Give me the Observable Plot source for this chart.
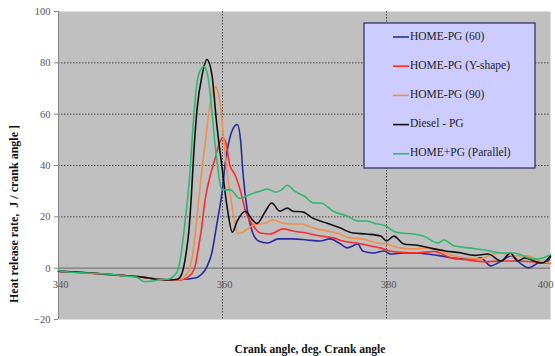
<!DOCTYPE html>
<html><head><meta charset="utf-8">
<script src="https://cdn.jsdelivr.net/npm/d3@7"></script>
<script src="https://cdn.jsdelivr.net/npm/@observablehq/plot@0.6"></script>
<style>body{margin:0;background:#fff} svg{display:block} svg text{font-family:'Liberation Serif','Times New Roman',serif !important;}</style>
</head><body><div id="chart"></div>
<script>
const seriesNames = ["HOME-PG (60)", "HOME-PG (Y-shape)", "HOME-PG (90)", "Diesel - PG", "HOME+PG (Parallel)"];
const seriesColors = ["#2a2a9c", "#ff2b2b", "#f0904c", "#111111", "#2eb872"];
const xTicks = [340, 360, 380];
const xTickLast = [400];
const yTicks = [-20, 0, 20, 40, 60, 80, 100];

const home60 = [[340,-1.3],[342,-1.6],[344,-2],[346,-2.4],[348,-2.9],[350,-3.4],[352,-4.2],[353.5,-4.5],[355.4,-4.3],[356.9,-3.6],[357.5,-2.2],[358.1,0.5],[358.7,6],[359.3,17],[360,31],[360.3,40],[360.7,48],[361.3,54.5],[361.8,56],[362.2,50],[362.5,37],[363,23],[363.6,14.5],[364.4,10.6],[365.5,9.8],[366.8,11.4],[368.6,11.4],[370.3,11],[371.9,10.6],[373.1,11.4],[374.4,9.4],[375.2,7.9],[376.5,9.4],[377.1,6.7],[378.4,5.9],[379.7,6.7],[380.5,5.5],[382.1,5.9],[383.8,5.9],[385,5.5],[386.6,4.8],[387.9,4],[389.5,3.6],[390.7,3.6],[391.5,4],[392.7,0.9],[394,2.8],[395.2,4.8],[396.4,1.7],[397.3,0.1],[398.5,2],[399.7,2.8],[400,4.5]];
const homeY = [[340,-1.2],[342,-1.5],[344,-2],[346,-2.5],[348,-2.9],[350,-3.4],[352,-4.3],[353.5,-4.6],[355,-4.5],[355.8,-3.5],[356.6,0],[357,6.7],[357.4,14.5],[357.9,27],[358.5,36],[359.1,42.8],[359.6,48.5],[360,50.8],[360.4,49],[360.9,40],[361.5,36.6],[362.2,30],[362.8,22.2],[363.6,17.2],[364.6,13.7],[365.8,13.3],[367.4,15.3],[368.6,14.5],[370.2,13.7],[371.9,12.5],[373.5,11.8],[374.7,10.6],[376.3,9.8],[378,8.7],[379.2,7.9],[380.4,6.7],[381.7,6.2],[383.8,6],[385.8,6.5],[387.9,4],[389.9,3.2],[392,2.5],[394,2.8],[396,2.8],[398,2.4],[400,1.8]];
const home90 = [[340,-1.3],[342,-1.6],[344,-2.1],[346,-2.4],[348,-2.9],[350,-3.5],[352,-4.2],[353.5,-4.6],[355,-4.3],[355.4,-3.2],[356,0],[356.4,6],[356.8,17],[357.3,33],[357.9,49],[358.4,62],[358.8,69],[359.1,70.8],[359.5,68],[359.8,62],[360.1,52],[360.6,36.6],[361.2,23.4],[361.9,13.5],[362.5,14],[363,15.3],[364.2,17.2],[365.2,17.5],[366.1,18.8],[367.3,17.6],[368.5,17.2],[369.7,17.2],[371,15.7],[372.7,14.5],[374.3,13.3],[375.5,11.8],[377.1,11.4],[378.8,9.8],[380,9.4],[381.6,7.9],[383.2,7.5],[385,7.9],[386.5,6.7],[388.2,4.8],[389.8,4],[391.4,3.6],[393,5.5],[394,5.9],[395.4,4.8],[397.1,4.8],[398.7,2.8],[400,2]];
const dieselPG = [[340,-1.2],[342,-1.5],[344,-1.9],[346,-2.4],[348,-2.9],[350,-3.4],[352,-4.3],[353.5,-4.6],[354.5,-4.3],[355,-2.5],[355.3,1],[355.6,6.7],[355.9,14.5],[356.2,28],[356.5,45],[356.9,62],[357.5,75],[358.1,81.3],[358.7,75.5],[359.3,56],[359.95,39],[360.6,23],[361.2,14],[361.8,18.4],[362.8,22.2],[363.6,19],[364.2,17.4],[365.2,22],[366,25.4],[367,22.2],[367.9,23.4],[368.6,22.2],[369.8,21.9],[371,19.5],[372.7,17.6],[374.3,15.7],[375.9,13.7],[377.6,13.3],[379.3,12.5],[380,10.6],[380.9,12.5],[382.1,9.4],[383.8,8.9],[385.5,7.7],[387.2,6.7],[389,6],[390.7,5],[392.4,5.5],[394,2.8],[395.1,5.9],[396,2.8],[396.9,4],[398,2.8],[399,2],[400,4.8]];
const parallelPG = [[340,-1],[342,-1.7],[344,-2],[346,-2.3],[348,-3],[349.5,-3.5],[350.5,-5.3],[351.5,-5],[352.5,-4.4],[353.5,-4.2],[354,-3.2],[354.5,-1.2],[354.8,2.5],[355.1,9],[355.5,20],[356,36],[356.4,55],[356.8,70],[357.2,76.5],[357.75,78.6],[358.2,75],[358.5,68],[358.8,58],[359.1,48],[359.4,40],[359.7,33],[360,30.5],[360.5,30.5],[361,30.5],[361.5,29],[362,27.2],[362.5,27.5],[363.2,28.5],[364,29.5],[364.6,30],[365.5,30.8],[366.5,29.6],[367.2,30.5],[367.9,32.3],[368.8,30],[370,28],[371.1,25.4],[372,25.4],[373.5,22.2],[375.2,20.3],[376.5,18.4],[377.5,18.4],[378.5,17.5],[379.9,16.4],[380.8,14.5],[381.7,13.7],[383.3,13.3],[384.5,12.5],[386.3,9.8],[387,11],[388.2,8.7],[390,7.9],[392,7.1],[394,5.9],[395.6,5.9],[397.3,4],[398.5,3.6],[400,5.2]];

const seriesData = [home60, homeY, home90, dieselPG, parallelPG];
const rows = [];
seriesData.forEach((arr, i) => arr.forEach(([x, y]) => rows.push({series: seriesNames[i], x, y})));

const serif = "'Liberation Serif', 'Times New Roman', serif";
const gridStyle = {stroke: "#333", strokeOpacity: 0.85, strokeDasharray: "1.5,1.5"};

const chart = Plot.plot({
  width: 555, height: 356,
  marginLeft: 58, marginRight: 5, marginTop: 11, marginBottom: 37,
  x: {domain: [340, 400], axis: null},
  y: {domain: [-20, 100], axis: null},
  color: {domain: seriesNames, range: seriesColors},
  style: {fontFamily: serif, fontSize: "10.5px", color: "#555", background: "#fff"},
  marks: [
    Plot.frame({fill: "#c0c0c0", stroke: null}),
    Plot.gridY([20, 40, 60, 80], gridStyle),
    Plot.gridX([360, 380], gridStyle),
    Plot.ruleY([0], {stroke: "#7a7a7a", strokeWidth: 1.2}),
    Plot.ruleX([340], {stroke: "#8a8a8a", strokeWidth: 1.2}),
    Plot.axisY(yTicks, {tickSize: 4, tickPadding: 4, stroke: "#8a8a8a", fill: "#555", label: null}),
    Plot.text(xTicks, {x: d => d, y: () => 0, text: d => String(d), dy: 16, dx: 2, fill: "#555"}),
    Plot.text(xTickLast, {x: d => d, y: () => 0, text: d => String(d), dy: 16, dx: -5, fill: "#555"}),
    Plot.line(rows, {x: "x", y: "y", z: "series", stroke: "series", strokeWidth: 1.6, curve: "monotone-x"})
  ]
});
document.getElementById("chart").append(chart);

const svg = d3.select(chart);
// Axis titles
svg.append("text")
  .attr("transform", "translate(15,214) rotate(-90)")
  .attr("text-anchor", "middle").attr("dominant-baseline", "middle")
  .style("font-weight", "bold").style("font-size", "12px")
  .attr("fill", "#111").text("Heat release rate,  J / crank angle ]");
svg.append("text")
  .attr("x", 310).attr("y", 350)
  .attr("text-anchor", "middle").attr("dominant-baseline", "middle")
  .style("font-weight", "bold").style("font-size", "11.5px")
  .attr("fill", "#111").text("Crank angle, deg. Crank angle");

// Legend
const lg = svg.append("g");
lg.append("rect").attr("x", 364).attr("y", 23).attr("width", 171).attr("height", 145)
  .attr("fill", "#ccccff").attr("stroke", "#2a2a5a").attr("stroke-width", 1.2);
seriesNames.forEach((name, i) => {
  const y = 37 + i * 29.2;
  lg.append("line").attr("x1", 393).attr("x2", 409).attr("y1", y).attr("y2", y)
    .attr("stroke", seriesColors[i]).attr("stroke-width", 1.6);
  lg.append("text").attr("x", 410).attr("y", y)
    .attr("text-anchor", "start").attr("dominant-baseline", "middle")
    .style("font-size", "11.5px").attr("fill", "#222").text(name);
});
</script>
</body></html>
